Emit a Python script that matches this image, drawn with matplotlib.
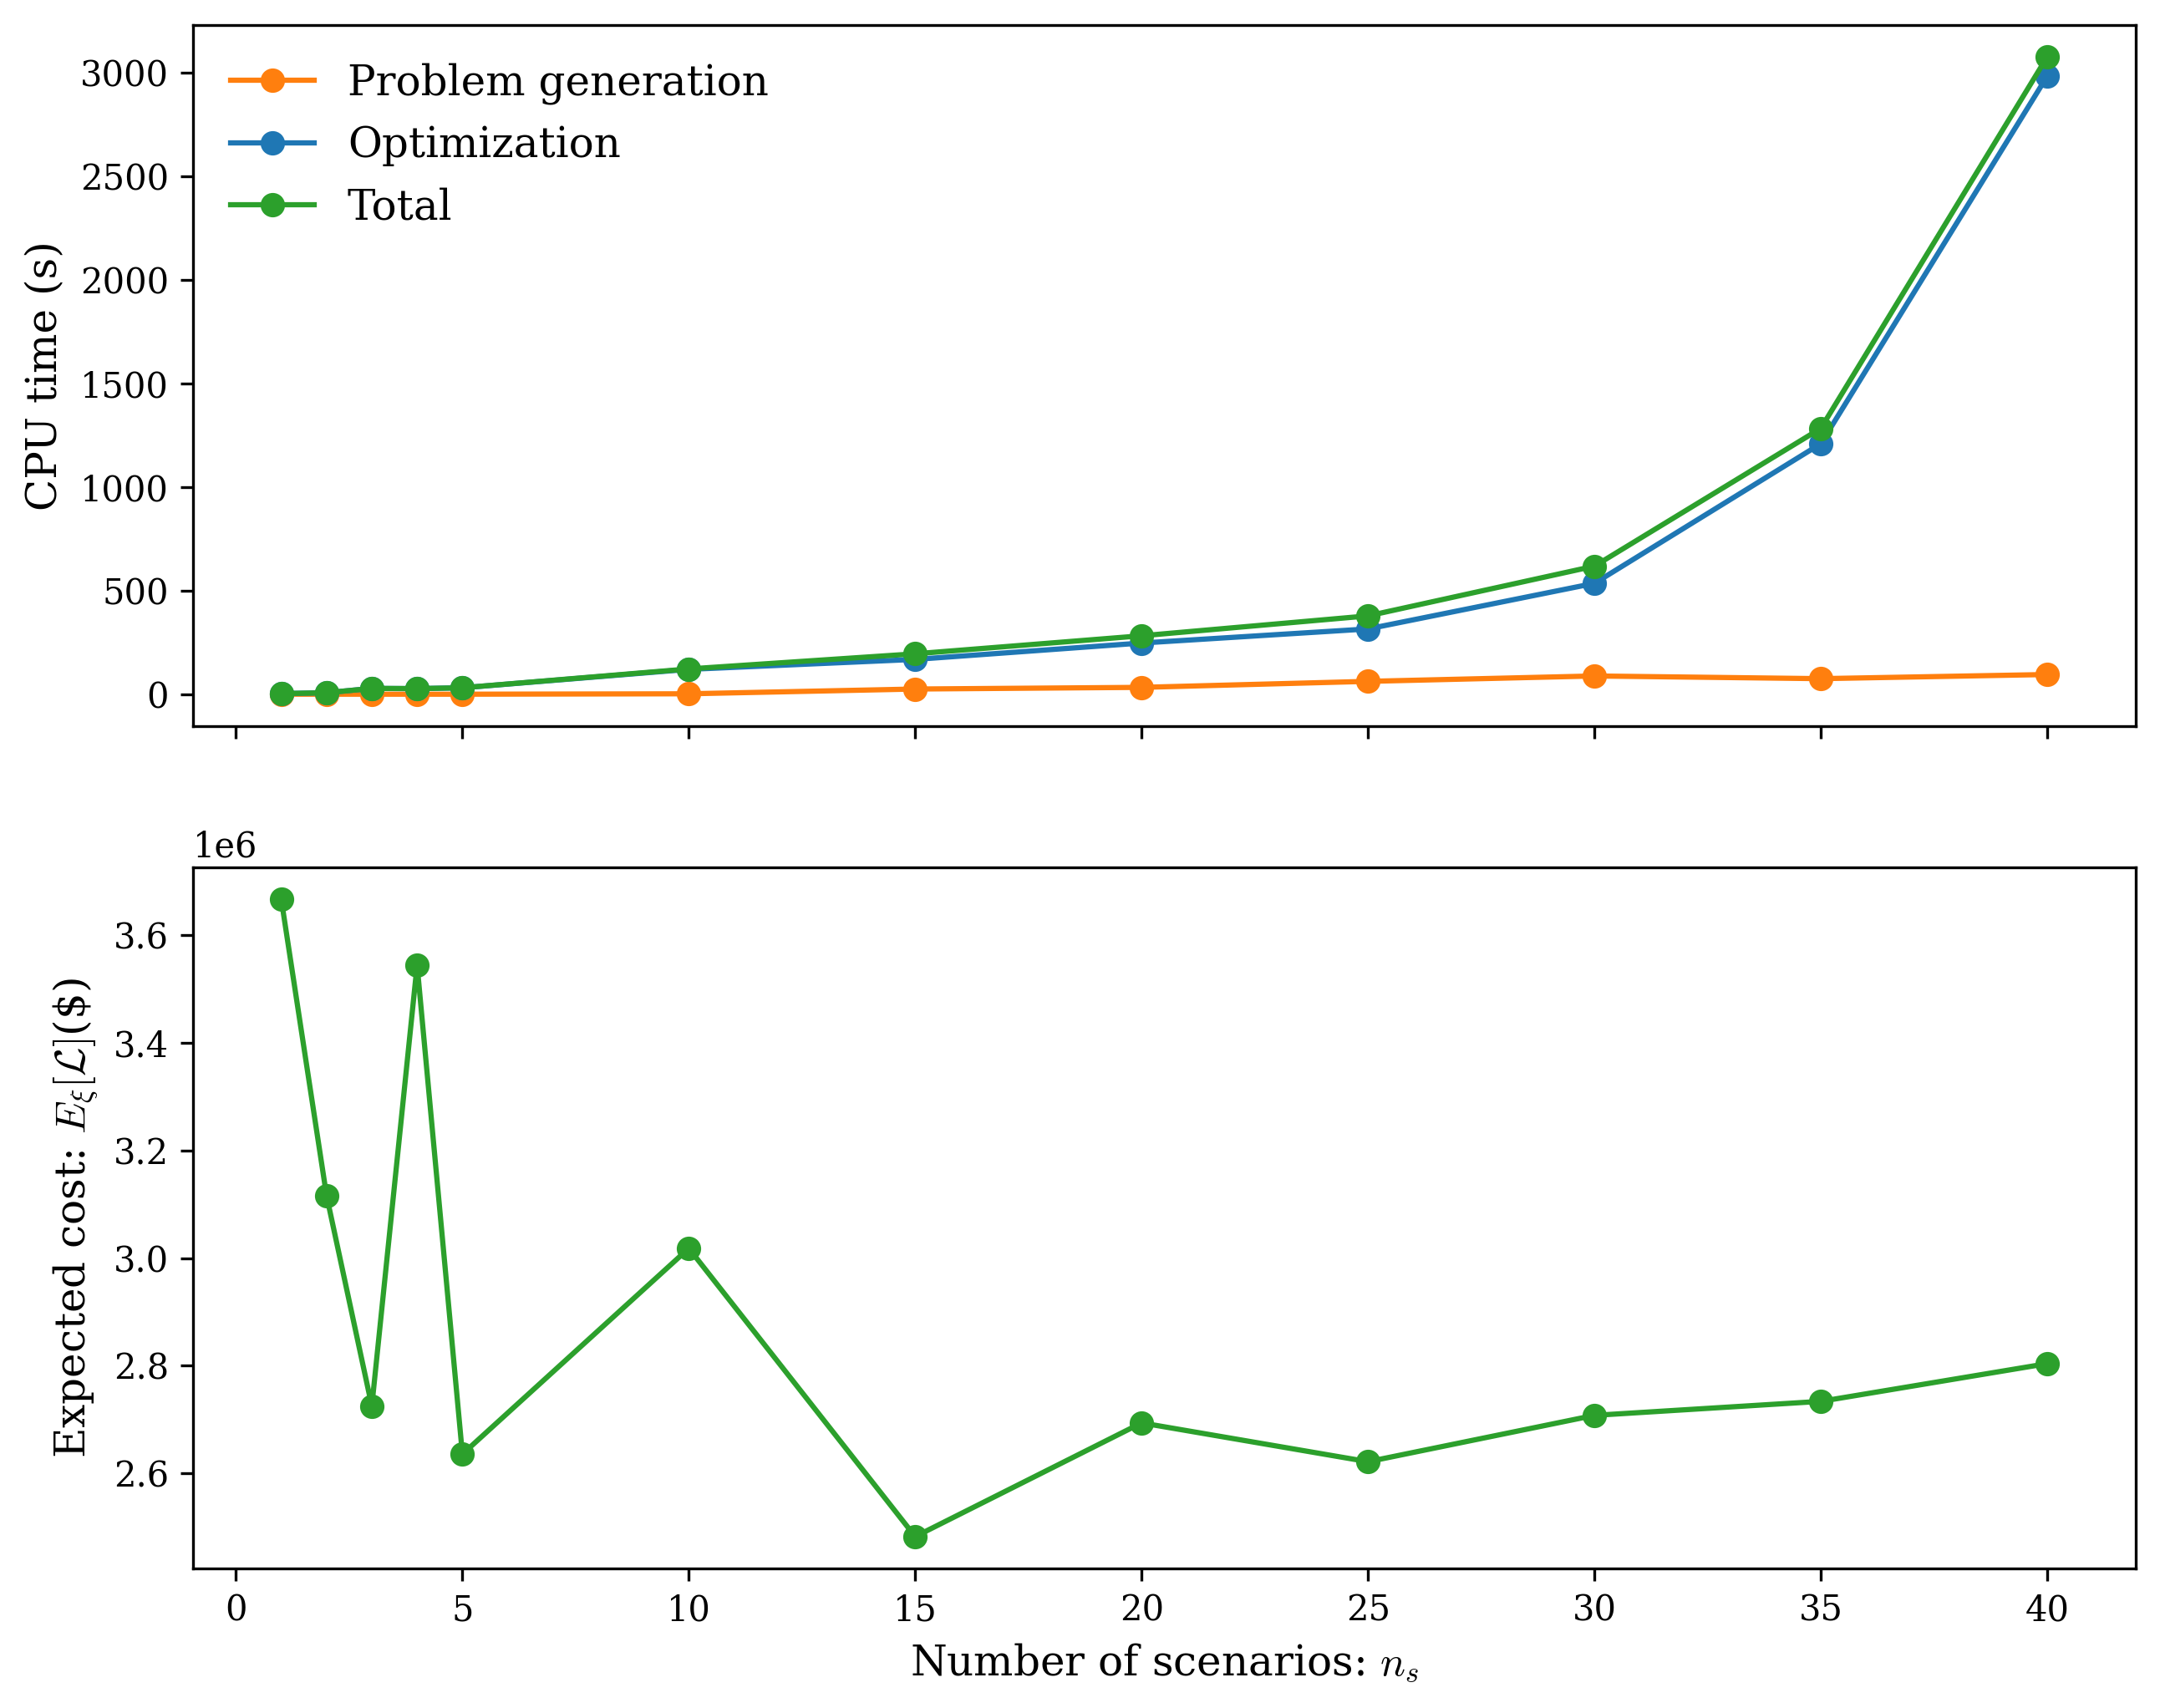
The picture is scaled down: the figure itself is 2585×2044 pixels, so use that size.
import numpy as np
import matplotlib
matplotlib.use("Agg")
import matplotlib.pyplot as plt

# # DATA

n_scenarios = [1, 2, 3, 4, 5, 10, 15, 20, 25, 30, 35, 40]
gen_time = [0, 0, 0, 0, 0, 2, 25, 33, 62, 88, 75, 95]
opt_time = [3, 7, 28, 27, 31, 120, 168, 247, 315, 535, 1209, 2983]
total_time = [3, 7, 28, 27, 31, 122, 195, 282, 378, 618, 1283, 3076]
expected_cost = [3.666e6, 3.116e6, 2.725e6, 3.544e6, 2.636e6, 3.018e6,
                 2.483e6, 2.694e6, 2.622e6, 2.708e6, 2.734e6, 2.804e6]

# # STYLE

plt.rcParams['font.family'] = 'serif'
plt.rcParams['font.serif'] = ['DejaVu Serif']
plt.rcParams['mathtext.fontset'] = 'cm'

# # FIGURE

fig = plt.figure(figsize=(2586 / 300, 2044 / 300), dpi=300)
ax1 = fig.add_axes([0.0893, 0.5749, 0.899, 0.4105])
ax2 = fig.add_axes([0.0893, 0.0817, 0.899, 0.4105], sharex=ax1)

ax1.plot(n_scenarios, gen_time, 'o-', color='C1', label='Problem generation')
ax1.plot(n_scenarios, opt_time, 'o-', color='C0', label='Optimization')
ax1.plot(n_scenarios, total_time, 'o-', color='C2', label='Total')
ax1.set_ylabel('CPU time (s)', fontsize=12)
ax1.legend(loc='upper left', frameon=False, fontsize=12)
ax1.tick_params(labelbottom=False)

ax2.plot(n_scenarios, expected_cost, 'o-', color='C2')
# ($) stays outside the math part, so it is drawn in the text font
ax2.set_ylabel(r'Expected cost: $E_{\xi}[\mathcal{L}]$(\$)', fontsize=12)
ax2.set_xlabel(r'Number of scenarios: $n_s$', fontsize=12)

plt.savefig('out.png', dpi=300)
plt.close()
